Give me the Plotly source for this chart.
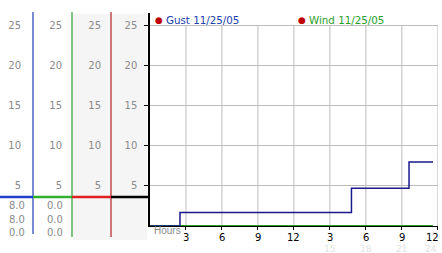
import plotly.graph_objects as go

W, H = 442, 253

# ---- data ----
gust_hours = [0, 2.5, 16.8, 21.6, 23.6]
gust_speed = [0, 1.7, 4.7, 8.0, 8.0]
wind_hours = [0, 23.6]
wind_speed = [0, 0]
series_names = ["Gust 11/25/05", "Wind 11/25/05"]
y_ticks = [5, 10, 15, 20, 25]
x_ticks = [3, 6, 9, 12, 15, 18, 21, 24]
x_tick_main = ["3", "6", "9", "12", "3", "6", "9", "12"]
x_tick_sub = ["", "", "", "", "15", "18", "21", "24"]
gust_stats = ["8.0", "8.0", "0.0"]
wind_stats = ["0.0", "0.0", "0.0"]

GUST = "#1a1a8c"
GUST_TXT = "#2040b0"
WIND = "#2aa02a"
GRID = "#bdbdbd"
LBL = "#8a8a8a"
FONT = "DejaVu Sans"


def fx(px):
    return px / W


def fy(py):
    return 1 - py / H


fig = go.Figure()
fig.add_trace(go.Scatter(x=wind_hours, y=wind_speed, mode="lines",
                         line=dict(color=WIND, width=2), name=series_names[1],
                         showlegend=False, cliponaxis=False))
fig.add_trace(go.Scatter(x=gust_hours, y=gust_speed, mode="lines",
                         line=dict(color=GUST, width=1.5, shape="hv"),
                         name=series_names[0], showlegend=False))

shapes = []
shapes.append(dict(type="rect", xref="paper", yref="paper", x0=fx(73), x1=fx(147),
                   y0=fy(240), y1=fy(14), fillcolor="#f5f5f5", line_width=0, layer="below"))
for t in x_ticks:
    shapes.append(dict(type="line", xref="x", yref="y", x0=t, x1=t, y0=0, y1=max(y_ticks),
                       line=dict(color=GRID, width=1), layer="below"))
for xp, col, yb in [(33, "#2040b0", 234), (72, WIND, 237), (111, "#b02020", 237)]:
    shapes.append(dict(type="line", xref="paper", yref="paper", x0=fx(xp), x1=fx(xp),
                       y0=fy(yb), y1=fy(12), line=dict(color=col, width=1.2)))
for x0, x1, col in [(0, 33, "#2040d0"), (33, 72, "#30b030"), (72, 111, "#e02020"), (111, 150, "#000000")]:
    shapes.append(dict(type="line", xref="paper", yref="paper", x0=fx(x0), x1=fx(x1),
                       y0=fy(197), y1=fy(197), line=dict(color=col, width=2.5)))

annotations = []
for (xd, xt, col, name) in [(159, 164, GUST_TXT, series_names[0]), (302, 307, WIND, series_names[1])]:
    annotations.append(dict(xref="paper", yref="paper", x=fx(xd), y=fy(19.5), text="●",
                            showarrow=False, font=dict(color="#c00000", size=9, family=FONT),
                            xanchor="center", yanchor="middle"))
    annotations.append(dict(xref="paper", yref="paper", x=fx(xt), y=fy(19.5), text=name,
                            showarrow=False, font=dict(color=col, size=10.3, family=FONT),
                            xanchor="left", yanchor="middle"))
annotations.append(dict(xref="paper", yref="paper", x=fx(152), y=fy(230.5), text="Hours",
                        showarrow=False, font=dict(color=LBL, size=10, family="Liberation Sans"),
                        xanchor="left", yanchor="middle"))
last = x_ticks[-1]
for t, m, s in zip(x_ticks, x_tick_main, x_tick_sub):
    edge = t == last
    annotations.append(dict(xref="x", yref="paper", x=t, y=fy(237), text=m,
                            showarrow=False, font=dict(color="black", size=10, family=FONT),
                            xanchor="right" if edge else "center", xshift=3 if edge else 0,
                            yanchor="middle"))
    if s:
        annotations.append(dict(xref="x", yref="paper", x=t, y=fy(249), text=s,
                                showarrow=False, font=dict(color="#e2e2e2", size=9, family=FONT),
                                xanchor="right" if edge else "center", xshift=1 if edge else 0,
                                yanchor="middle"))
for vals, xr in [(gust_stats, 27), (wind_stats, 65)]:
    for v, yp in zip(vals, [205.5, 219, 232.5]):
        annotations.append(dict(xref="paper", yref="paper", x=fx(xr), y=fy(yp), text=v,
                                showarrow=False, font=dict(color=LBL, size=10, family=FONT),
                                xanchor="right", yanchor="middle"))

yrange = [0, 26.6]
ydom = [fy(226), fy(13)]
common_y = dict(range=yrange, tickvals=y_ticks, ticktext=[str(v) for v in y_ticks],
                tickfont=dict(color=LBL, size=10, family=FONT), fixedrange=True,
                automargin=False)

fig.update_layout(
    width=W, height=H, margin=dict(l=0, r=0, t=0, b=0),
    paper_bgcolor="white", plot_bgcolor="rgba(0,0,0,0)",
    showlegend=False,
    xaxis=dict(domain=[fx(150), fx(437.8)], range=[0, 24], tickvals=x_ticks,
               showticklabels=False, showgrid=False, zeroline=False, automargin=False,
               showline=True, linecolor="black", linewidth=1,
               ticks="outside", ticklen=3, tickcolor="black"),
    yaxis=dict(domain=ydom, showgrid=True, gridcolor=GRID, gridwidth=1, zeroline=False,
               showline=True, linecolor="black", linewidth=1.5,
               ticks="outside", ticklen=4, tickcolor="black", ticklabelstandoff=5,
               **common_y),
    yaxis2=dict(overlaying="y", anchor="free", position=fx(111), side="left",
                showgrid=False, zeroline=False, showline=False, ticks="",
                ticklabelstandoff=10, **common_y),
    yaxis3=dict(overlaying="y", anchor="free", position=fx(72), side="left",
                showgrid=False, zeroline=False, showline=False, ticks="",
                ticklabelstandoff=10, **common_y),
    yaxis4=dict(overlaying="y", anchor="free", position=fx(33), side="left",
                showgrid=False, zeroline=False, showline=False, ticks="",
                ticklabelstandoff=12, **common_y),
    shapes=shapes, annotations=annotations,
)
for ax in ["y2", "y3", "y4"]:
    fig.add_trace(go.Scatter(x=[None], y=[None], yaxis=ax, showlegend=False, hoverinfo="skip"))

fig.write_html("out.html")
